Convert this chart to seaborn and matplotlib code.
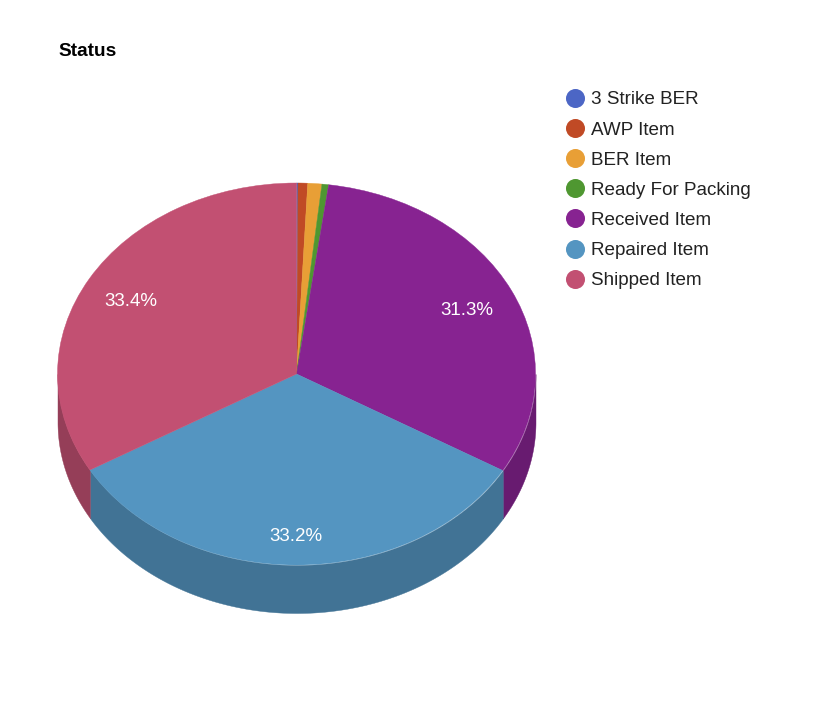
import numpy as np
import matplotlib
matplotlib.use('Agg')
import matplotlib.pyplot as plt
from matplotlib.lines import Line2D
import seaborn as sns

# Status values in percent
categories = ['3 Strike BER', 'AWP Item', 'BER Item', 'Ready For Packing',
              'Received Item', 'Repaired Item', 'Shipped Item']
values = [0.1, 0.65, 0.95, 0.45, 31.3, 33.2, 33.4]
colors = ['#4c66c5', '#c04a25', '#e89f36', '#4f9731', '#872391', '#5495c1', '#c25072']

sns.set_theme(style='white')
plt.rcParams['font.family'] = ['Liberation Sans', 'DejaVu Sans']

W, H = 835, 721
fig = plt.figure(figsize=(W / 100, H / 100), dpi=100, facecolor='white')

# axes box is the top ellipse of the pie, in pixels
left, top, rx, ry = 57.5, 183, 239, 191
ax = fig.add_axes([left / W, 1 - (top + 2 * ry) / H, 2 * rx / W, 2 * ry / H])

palette = sns.color_palette(colors)
wedges, texts, autotexts = ax.pie(
    values, colors=palette, startangle=90, counterclock=False, radius=1,
    autopct=lambda p: f'{p:.1f}%' if p > 5 else '',
    textprops={'color': 'white', 'fontsize': 13.5})
for wedge in wedges:
    wedge.set_edgecolor(wedge.get_facecolor())
    wedge.set_linewidth(0.3)
ax.set_aspect('auto')
ax.set_xlim(-1, 1)
ax.set_ylim(-1, 1)
ax.axis('off')

# side wall of the 3D pie, only the part of each slice facing the viewer
depth = 48 / ry
for wedge in wedges:
    t1, t2 = wedge.theta1 % 360, wedge.theta2 % 360
    if t2 <= t1:
        t2 += 360
    for shift in (0, 360):
        a, b = max(t1, 180 + shift), min(t2, 360 + shift)
        if b <= a:
            continue
        t = np.radians(np.linspace(a, b, 200))
        dark = tuple(c * 0.77 for c in wedge.get_facecolor()[:3])
        ax.fill_between(np.cos(t), np.sin(t), np.sin(t) - depth, color=dark,
                        linewidth=0.3, clip_on=False, zorder=0)

# percent labels sit at their own radius in the original
label_pos = {4: (0.711, 0.333), 5: (-0.004, -0.853), 6: (-0.695, 0.38)}
for i, txt in enumerate(autotexts):
    if i in label_pos:
        txt.set_position(label_pos[i])
        txt.set_ha('center')
        txt.set_va('center')

fig.text(58 / W, 1 - 51 / H, 'Status', fontsize=13.7, fontweight='bold',
         color='black', ha='left', va='center')

handles = [Line2D([], [], linestyle='none', marker='o', markersize=13.7,
                  markerfacecolor=c, markeredgecolor=c, markeredgewidth=0)
           for c in palette]
fig.legend(handles, categories, loc='upper left',
           bbox_to_anchor=(557.5 / W, 1 - 85.5 / H), frameon=False, fontsize=13.6,
           labelcolor='#222222', labelspacing=0.685, handlelength=1.2,
           handletextpad=0.27, borderpad=0.3, borderaxespad=0)

fig.savefig('out.png', dpi=100)
